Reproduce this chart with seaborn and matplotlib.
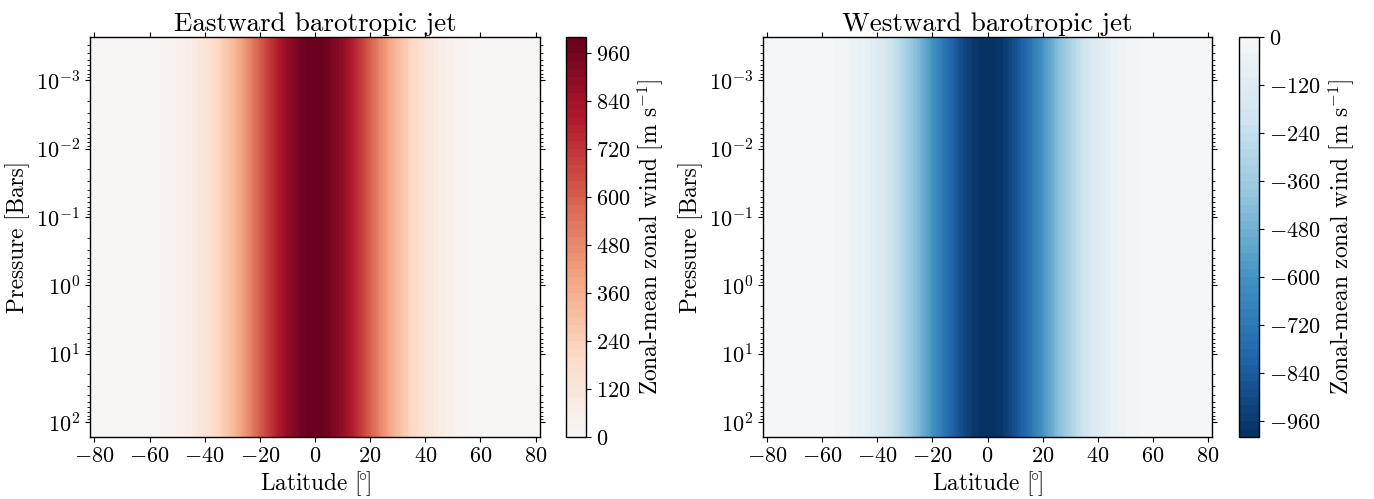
import numpy as np
import matplotlib
matplotlib.use("Agg")
import matplotlib.pyplot as plt
import seaborn as sns
from matplotlib.colors import Normalize

# ---- data ----
latitude = [-81.6, -80, -75, -70, -65, -60, -55, -50, -45, -40, -35, -30, -25,
            -20, -15, -10, -5, 0, 5, 10, 15, 20, 25, 30, 35, 40, 45, 50, 55,
            60, 65, 70, 75, 80, 81.6]
eastward_wind = [0, 0, 1, 2, 5, 10, 21, 41, 76, 130, 209, 317, 451,
                 600, 751, 880, 969, 1000, 969, 880, 751, 600, 451, 317, 209,
                 130, 76, 41, 21, 10, 5, 2, 1, 0, 0]
westward_wind = [0, 0, -1, -2, -5, -10, -21, -41, -76, -130, -209, -317, -451,
                 -600, -751, -880, -969, -1000, -969, -880, -751, -600, -451,
                 -317, -209, -130, -76, -41, -21, -10, -5, -2, -1, 0, 0]
pressure_bar = [2.31e-4, 1e-3, 1e-2, 1e-1, 1.0, 10.0, 100.0, 165.0]

titles = ["Eastward barotropic jet", "Westward barotropic jet"]

# ---- style ----
sns.set_style("ticks")
plt.rcParams.update({
    "font.family": "serif",
    "font.serif": ["cmr10", "DejaVu Serif"],
    "mathtext.fontset": "cm",
    "axes.formatter.use_mathtext": True,
    "axes.unicode_minus": True,
    "axes.edgecolor": "black",
    "text.color": "black",
    "axes.labelcolor": "black",
    "xtick.color": "black",
    "ytick.color": "black",
    "axes.linewidth": 1.0,
})

cmap = sns.color_palette("RdBu_r", as_cmap=True)
norm = Normalize(vmin=-1000, vmax=1000)

fig = plt.figure(figsize=(13.74, 4.99), dpi=100)
W, H = 1374.0, 499.0
ax_boxes = [(90, 37, 450, 400), (763, 37, 449, 400)]
cb_boxes = [(566, 37, 20, 400), (1239, 37, 20, 400)]
level_sets = [np.linspace(0, 1000, 51), np.linspace(-1000, 0, 51)]
fields = [eastward_wind, westward_wind]

lat = np.array(latitude)
p = np.array(pressure_bar)

for i in range(2):
    x0, y0, w, h = ax_boxes[i]
    ax = fig.add_axes([x0 / W, 1 - (y0 + h) / H, w / W, h / H])
    c0, cy0, cw, ch = cb_boxes[i]
    cax = fig.add_axes([c0 / W, 1 - (cy0 + ch) / H, cw / W, ch / H])

    U = np.tile(np.array(fields[i], dtype=float), (len(p), 1))
    cs = ax.contourf(lat, p, U, levels=level_sets[i], cmap=cmap, norm=norm)
    ax.set_yscale("log")
    ax.set_ylim(p.max(), p.min())
    ax.set_xlim(lat.min(), lat.max())
    ax.set_xticks([-80, -60, -40, -20, 0, 20, 40, 60, 80])
    ax.tick_params(which="both", direction="out", top=True, right=True,
                   labelsize=16)
    ax.set_title(titles[i], fontsize=19.5, pad=4, color="black")
    ax.set_xlabel(r"Latitude [$\!^{\circ}\!$]", fontsize=16.8, labelpad=2)
    ax.set_ylabel("Pressure [Bars]", fontsize=16.8, labelpad=4)

    cb = fig.colorbar(cs, cax=cax)
    cb.ax.tick_params(labelsize=16, direction="out")
    cb.set_label(r"Zonal-mean zonal wind [m s$^{-1}$]", fontsize=16.8, labelpad=4)

fig.savefig("out.png", dpi=100)
